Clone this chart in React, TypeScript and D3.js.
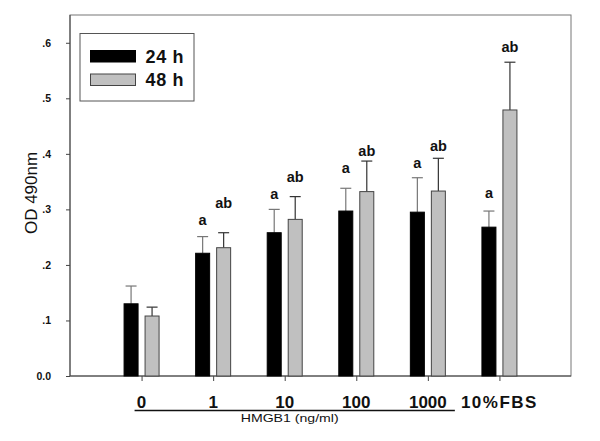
import React, { useEffect, useRef } from "react";
import * as d3 from "d3";

const categories = ["0", "1", "10", "100", "1000", "10%FBS"];
const series = ["24 h", "48 h"];
const values24 = [0.130, 0.221, 0.258, 0.297, 0.295, 0.268];
const errors24 = [0.032, 0.030, 0.042, 0.041, 0.062, 0.029];
const values48 = [0.108, 0.231, 0.282, 0.332, 0.333, 0.479];
const errors48 = [0.016, 0.027, 0.041, 0.055, 0.059, 0.086];
const letters24 = ["", "a", "a", "a", "a", "a"];
const letters48 = ["", "ab", "ab", "ab", "ab", "ab"];
const letterY24 = [0, 0.272, 0.319, 0.365, 0.375, 0.321];
const letterY48 = [0, 0.303, 0.350, 0.397, 0.406, 0.584];
const yTicks = [0, 0.1, 0.2, 0.3, 0.4, 0.5, 0.6];
const yLabel = "OD 490nm";
const xSubLabel = "HMGB1 (ng/ml)";

const W = 600, H = 441;
const left = 70, right = 571, top = 15, bottom = 376;
const FONT = "'Liberation Sans', Arial, sans-serif";

export default function App() {
  const ref = useRef<SVGSVGElement>(null);
  useEffect(() => {
    const svg = d3.select(ref.current);
    svg.selectAll("*").remove();
    const y = d3.scaleLinear().domain([0, 0.65]).range([bottom, top]);
    const x = d3.scalePoint<string>().domain(categories).range([left, right]).padding(1);
    const bw = 14, gap = 3.5;
    const colors = ["#000", "#c0c0c0"];
    const strokes = ["#000", "#444"];
    const errColors = ["#777", "#333"];
    const vals = [values24, values48];
    const errs = [errors24, errors48];
    const lets = [letters24, letters48];
    const letY = [letterY24, letterY48];

    // frame
    svg.append("rect").attr("x", left).attr("y", top).attr("width", right - left).attr("height", bottom - top)
      .attr("fill", "none").attr("stroke", "#777").attr("stroke-width", 1);
    svg.append("line").attr("x1", left).attr("x2", left).attr("y1", top).attr("y2", bottom).attr("stroke", "#444");
    svg.append("line").attr("x1", left).attr("x2", right).attr("y1", bottom).attr("y2", bottom).attr("stroke", "#444");

    // y axis
    const ya = svg.append("g").attr("transform", `translate(${left},0)`)
      .call(d3.axisLeft(y).tickValues(yTicks).tickSize(4).tickPadding(15)
        .tickFormat((d: any) => (d === 0 ? "0.0" : d3.format(".1f")(d).replace(/^0/, ""))));
    ya.select(".domain").remove();
    ya.selectAll("line").attr("stroke", "#444");
    ya.selectAll("text").attr("font-family", FONT).attr("font-size", 10.5).attr("font-weight", "bold").attr("fill", "#111");

    // x axis ticks
    const xa = svg.append("g").attr("transform", `translate(0,${bottom})`)
      .call(d3.axisBottom(x).tickSize(5).tickFormat(() => ""));
    xa.select(".domain").remove();
    xa.selectAll("line").attr("stroke", "#444");

    // bars
    series.forEach((s, si) => {
      const off = si === 0 ? -gap - bw : gap;
      categories.forEach((c, i) => {
        const x0 = (x(c) as number) + off;
        const v = vals[si][i];
        const e = errs[si][i];
        const cx = x0 + bw / 2;
        svg.append("line").attr("x1", cx).attr("x2", cx).attr("y1", y(v)).attr("y2", y(v + e))
          .attr("stroke", errColors[si]).attr("stroke-width", 1.2);
        svg.append("line").attr("x1", cx - 5.5).attr("x2", cx + 5.5).attr("y1", y(v + e)).attr("y2", y(v + e))
          .attr("stroke", errColors[si]).attr("stroke-width", 1.2);
        svg.append("rect").attr("x", x0).attr("y", y(v)).attr("width", bw).attr("height", bottom - y(v))
          .attr("fill", colors[si]).attr("stroke", strokes[si]).attr("stroke-width", 1);
        if (lets[si][i]) {
          svg.append("text").attr("x", cx).attr("y", y(letY[si][i])).attr("text-anchor", "middle")
            .attr("font-family", FONT).attr("font-size", 14.5).attr("font-weight", "bold").attr("fill", "#111")
            .text(lets[si][i]);
        }
      });
    });

    // x labels
    categories.forEach((c, i) => {
      svg.append("text").attr("x", x(c) as number).attr("y", 408).attr("text-anchor", "middle")
        .attr("font-family", FONT).attr("font-size", 17).attr("font-weight", "bold").attr("fill", "#111")
        .attr("letter-spacing", i === categories.length - 1 ? 1.5 : 0).text(c);
    });
    const ux0 = (x(categories[0]) as number) - 7;
    const ux1 = (x(categories[4]) as number) + 27;
    svg.append("line").attr("x1", ux0).attr("x2", ux1).attr("y1", 410.5).attr("y2", 410.5)
      .attr("stroke", "#111").attr("stroke-width", 1.3);
    svg.append("text").attr("x", (ux0 + ux1) / 2 - 5).attr("y", 422).attr("text-anchor", "middle")
      .attr("font-family", FONT).attr("font-size", 10.5).attr("fill", "#111")
      .attr("textLength", 98).attr("lengthAdjust", "spacingAndGlyphs").text(xSubLabel);

    // y label
    svg.append("text").attr("transform", "translate(37,193) rotate(-90)").attr("text-anchor", "middle")
      .attr("font-family", FONT).attr("font-size", 17).attr("fill", "#111").text(yLabel);

    // legend
    svg.append("rect").attr("x", 80).attr("y", 33.5).attr("width", 114).attr("height", 67.5)
      .attr("fill", "#fff").attr("stroke", "#555");
    series.forEach((s, si) => {
      const yy = si === 0 ? 50.5 : 74;
      svg.append("rect").attr("x", 90.5).attr("y", yy).attr("width", 45).attr("height", 11.5)
        .attr("fill", colors[si]).attr("stroke", strokes[si]);
      svg.append("text").attr("x", 145.5).attr("y", yy + 12).attr("font-family", FONT).attr("font-size", 18)
        .attr("letter-spacing", 0.7).attr("font-weight", "bold").attr("fill", "#111").text(s);
    });
  }, []);
  return (
    <svg ref={ref} width={W} height={H} style={{ position: "absolute", left: 0, top: 0, background: "#fff" }} />
  );
}
